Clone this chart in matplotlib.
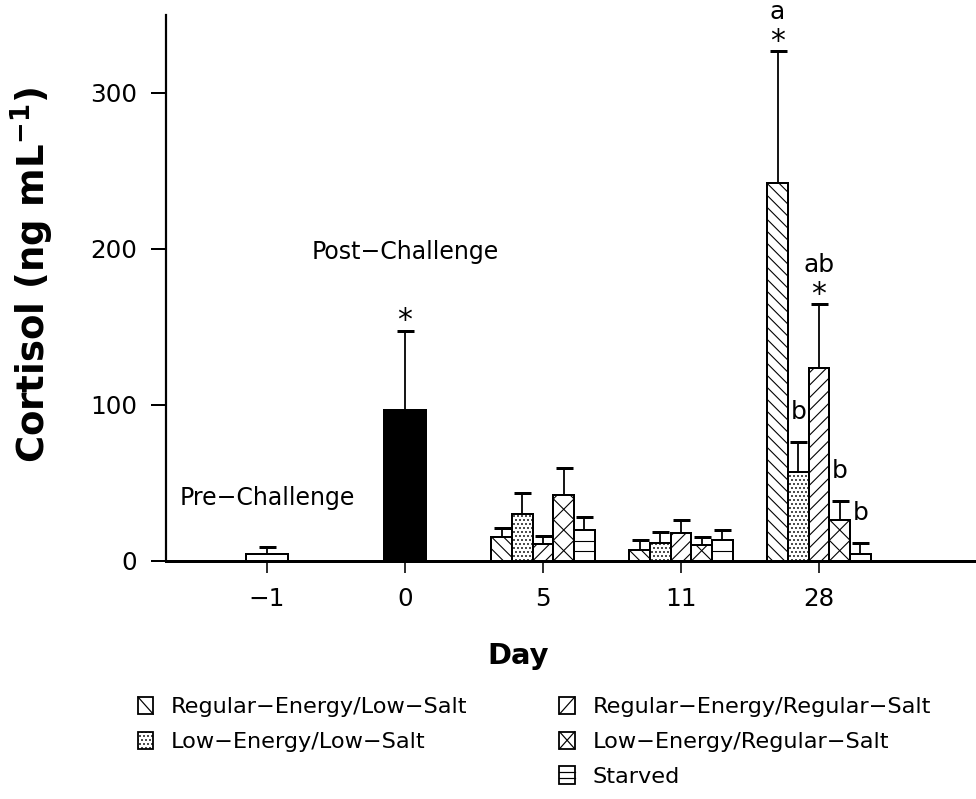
import matplotlib
matplotlib.use("Agg")
import matplotlib.pyplot as plt
import numpy as np
from matplotlib.collections import LineCollection
from matplotlib.legend_handler import HandlerBase
from matplotlib.lines import Line2D
from matplotlib.patches import Patch, Rectangle

plt.rcParams["font.family"] = ["DejaVu Sans"]
plt.rcParams["mathtext.default"] = "regular"
plt.rcParams["hatch.linewidth"] = 0.5

# data
days = ["\u22121", "0", "5", "11", "28"]
groups = [
    "Regular\u2212Energy/Low\u2212Salt",
    "Low\u2212Energy/Low\u2212Salt",
    "Regular\u2212Energy/Regular\u2212Salt",
    "Low\u2212Energy/Regular\u2212Salt",
    "Starved",
]
hatches = ["\\", ".", "/", "x", "-"]

pre_mean, pre_se = 4.3, 4.9
post_mean, post_se = 97.0, 50.5

day5_mean = [15.6, 30.0, 11.0, 42.0, 20.0]
day5_se = [5.8, 13.5, 5.0, 17.6, 8.5]
day11_mean = [7.0, 11.8, 18.2, 10.3, 13.7]
day11_se = [6.5, 6.6, 7.8, 5.3, 6.0]
day28_mean = [242.0, 57.0, 124.0, 26.5, 4.3]
day28_se = [84.7, 19.0, 40.5, 12.0, 7.0]
day28_letters = ["a", "b", "ab", "b", "b"]
day28_star = [True, False, True, False, False]

DPI = 144
fig = plt.figure(figsize=(976 / DPI, 799 / DPI), dpi=DPI)
ax = fig.add_axes([166 / 976, 1 - 561 / 799, 1 - 166 / 976, (561 - 15) / 799])
ax.set_xlim((166 - 267) / 138, (976 - 267) / 138)
ax.set_ylim(0, 350)

w = 0.15
ekw = dict(fmt="none", ecolor="black", elinewidth=0.9, capsize=4.25, capthick=1.5)


def add_hatch(rect, kind):
    # hatch lines drawn in pixel space, clipped to the bar
    x, y, bw, bh = rect.get_x(), rect.get_y(), rect.get_width(), rect.get_height()
    (px0, py0), (px1, py1) = ax.transData.transform([(x, y), (x + bw, y + bh)])
    W, H = px1 - px0, py1 - py0
    segs = []
    if kind == "\\":
        step = 12
        for k in range(-int(W / step) - 1, int(H / step) + 2):
            segs.append([(px0, py1 - k * step), (px0 + W, py1 - k * step - W)])
    elif kind == "/":
        step = 12.5
        for k in range(-int(W / step) - 1, int(H / step) + 2):
            segs.append([(px0, py0 + k * step), (px0 + W, py0 + k * step + W)])
    elif kind == "x":
        for k in range(-1, int(H / W) + 2):
            segs.append([(px0, py0 + k * W), (px1, py0 + (k + 1) * W)])
            segs.append([(px0, py0 + (k + 1) * W), (px1, py0 + k * W)])
    elif kind == "-":
        step = 10
        k = 1
        while k * step < H - 2:
            segs.append([(px0, py0 + k * step), (px1, py0 + k * step)])
            k += 1
    if not segs:
        return
    inv = ax.transData.inverted()
    segs = [inv.transform(s) for s in segs]
    lc = LineCollection(segs, colors="black", linewidths=0.55, zorder=2.5)
    ax.add_collection(lc, autolim=False)
    lc.set_clip_path(rect)


def bar_with_err(x, mean, se, width, kind=None, **kw):
    bars = ax.bar(x, mean, width, edgecolor="black", linewidth=1.0, zorder=2,
                  hatch="......" if kind == "." else None, **kw)
    if kind in ("\\", "/", "x", "-"):
        add_hatch(bars[0], kind)
    eb = ax.errorbar([x], [mean], yerr=[[0], [se]], zorder=3, **ekw)
    eb[1][0].set_visible(False)  # hide lower cap


bar_with_err(0, pre_mean, pre_se, 2 * w, color="white")
bar_with_err(1, post_mean, post_se, 2 * w, color="black")

for gi, (means, ses) in enumerate([(day5_mean, day5_se), (day11_mean, day11_se), (day28_mean, day28_se)]):
    xc = gi + 2
    for i in range(5):
        bar_with_err(xc + (i - 2) * w, means[i], ses[i], w, kind=hatches[i], color="white")

# letters and stars on day 28
for i in range(5):
    x = 4 + (i - 2) * w
    top = day28_mean[i] + day28_se[i]
    if day28_star[i]:
        ax.annotate("*", (x, top), xytext=(0, 0.5), textcoords="offset points",
                    ha="center", va="baseline", fontsize=15)
        ax.annotate(day28_letters[i], (x, top), xytext=(0, 19.5), textcoords="offset points",
                    ha="center", va="center", fontsize=12.5)
    else:
        ax.annotate(day28_letters[i], (x, top), xytext=(0, 15), textcoords="offset points",
                    ha="center", va="center", fontsize=12.5)

ax.annotate("*", (1, post_mean + post_se), xytext=(0, 1), textcoords="offset points",
            ha="center", va="baseline", fontsize=15)
ax.text(1, 198, "Post\u2212Challenge", ha="center", va="center", fontsize=11.8)
ax.text(0, 40.4, "Pre\u2212Challenge", ha="center", va="center", fontsize=11.8)

ax.set_xticks(np.arange(5))
ax.set_xticklabels(days)
ax.set_yticks([0, 100, 200, 300])
ax.tick_params(axis="y", direction="out", length=7.5, width=1.0, pad=7, labelsize=12.3)
ax.tick_params(axis="x", direction="out", length=6, width=0.8, pad=7, labelsize=12.3)
ax.spines["top"].set_visible(False)
ax.spines["right"].set_visible(False)
ax.spines["left"].set_linewidth(1.1)
ax.spines["bottom"].set_linewidth(1.5)

ax.set_ylabel("Cortisol (ng mL$^{-1}$)", fontsize=18.5, fontweight="bold")
ax.yaxis.set_label_coords((56 - 166) / 810, (561 - 275) / 546)
ax.set_xlabel("Day", fontsize=14.5, fontweight="bold")
ax.xaxis.set_label_coords((518 - 166) / 810, (561 - 642) / 546)


class HatchHandler(HandlerBase):
    def __init__(self, kind):
        super().__init__()
        self.kind = kind

    def create_artists(self, legend, orig_handle, xdescent, ydescent, width, height, fontsize, trans):
        x0, y0 = -xdescent, -ydescent
        rect = Rectangle((x0, y0), width, height, facecolor="white", edgecolor="black",
                         linewidth=0.9, hatch="......" if self.kind == "." else None, transform=trans)
        arts = [rect]
        lk = dict(color="black", linewidth=0.6, transform=trans)
        if self.kind in ("\\", "x"):
            arts.append(Line2D([x0, x0 + width], [y0 + height, y0], **lk))
        if self.kind in ("/", "x"):
            arts.append(Line2D([x0, x0 + width], [y0, y0 + height], **lk))
        if self.kind == "-":
            for f in (1 / 3, 2 / 3):
                arts.append(Line2D([x0, x0 + width], [y0 + f * height] * 2, **lk))
        return arts


handles = [Patch(label=g) for g in groups]
blank = Patch(facecolor="none", edgecolor="none", label=" ")
order = [handles[0], handles[1], blank, handles[2], handles[3], handles[4]]
hmap = {handles[i]: HatchHandler(hatches[i]) for i in range(5)}
fig.legend(handles=order, handler_map=hmap, ncol=2, loc="upper left",
           bbox_to_anchor=(138 / 976, 1 - 697 / 799), frameon=False, fontsize=11.2,
           handlelength=0.68, handleheight=0.8, handletextpad=0.8,
           columnspacing=4.1, labelspacing=0.64, borderpad=0, borderaxespad=0)

fig.savefig("out.png", dpi=DPI)
